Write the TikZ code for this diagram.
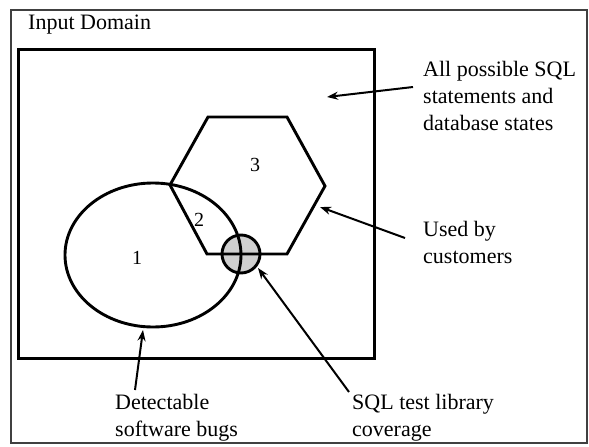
\documentclass[tikz,border=0pt]{standalone}
\usepackage{fontspec}
\setmainfont{Liberation Serif}
\usetikzlibrary{arrows.meta}
\begin{document}
\begin{tikzpicture}[x=1pt,y=-1pt,
  lbl/.style={anchor=north west, inner sep=0pt, align=left, font=\fontsize{22}{27}\selectfont},
  num/.style={inner sep=0pt, font=\fontsize{20}{24}\selectfont},
  outline/.style={line width=2.9pt, black},
  ptr/.style={line width=2pt, -{Stealth[length=11pt,width=8pt]}}]
\useasboundingbox (0,0) rectangle (589,447);
\fill[white] (0,0) rectangle (589,447);

% outer frame and its title
\draw[line width=2.2pt, black!75] (11,10) rectangle (587,443);
\node[lbl] (dom) at (28,15) {Input Domain};

% the space of all statements and states
\node[draw, outline, minimum width=356pt, minimum height=309pt, inner sep=0pt,
      anchor=north west] (space) at (17,48) {};

% coverage disc (fill first, lines on top)
\fill[gray!38] (241,254) circle [radius=19];

% detectable bugs
\draw[outline] (153,255) ellipse [x radius=88, y radius=72];

% customer usage hexagon
\coordinate (h1) at (208,117);
\coordinate (h2) at (287,117);
\coordinate (h3) at (325,186);
\coordinate (h4) at (287,254);
\coordinate (h5) at (207,254);
\coordinate (h6) at (170,185);
\draw[outline, line join=miter] (h1) -- (h2) -- (h3) -- (h4) -- (h5) -- (h6) -- cycle;

\node[circle, draw, outline, minimum size=38pt, inner sep=0pt] (cov) at (241,254) {};

% region numbers
\node[num] (n1) at (137,258) {1};
\node[num] (n2) at (199,220) {2};
\node[num] (n3) at (255,165) {3};

% labels
\node[lbl] (all) at (423,61) {All possible SQL\\statements and\\database states};
\node[lbl] (used) at (423,221) {Used by\\customers};
\node[lbl] (bugs) at (115,394) {Detectable\\software bugs};
\node[lbl] (sqlt) at (352,394) {SQL test library\\coverage};

% pointers
\coordinate (s1) at (413,87);  \coordinate (t1) at (327,97);
\coordinate (s2) at (405,238); \coordinate (t2) at (320,207);
\coordinate (s3) at (135,390); \coordinate (t3) at (143,330);
\coordinate (s4) at (349,392); \coordinate (t4) at (258,268);
\draw[ptr] (s1) -- (t1);
\draw[ptr] (s2) -- (t2);
\draw[ptr] (s3) -- (t3);
\draw[ptr] (s4) -- (t4);
\end{tikzpicture}
\end{document}
